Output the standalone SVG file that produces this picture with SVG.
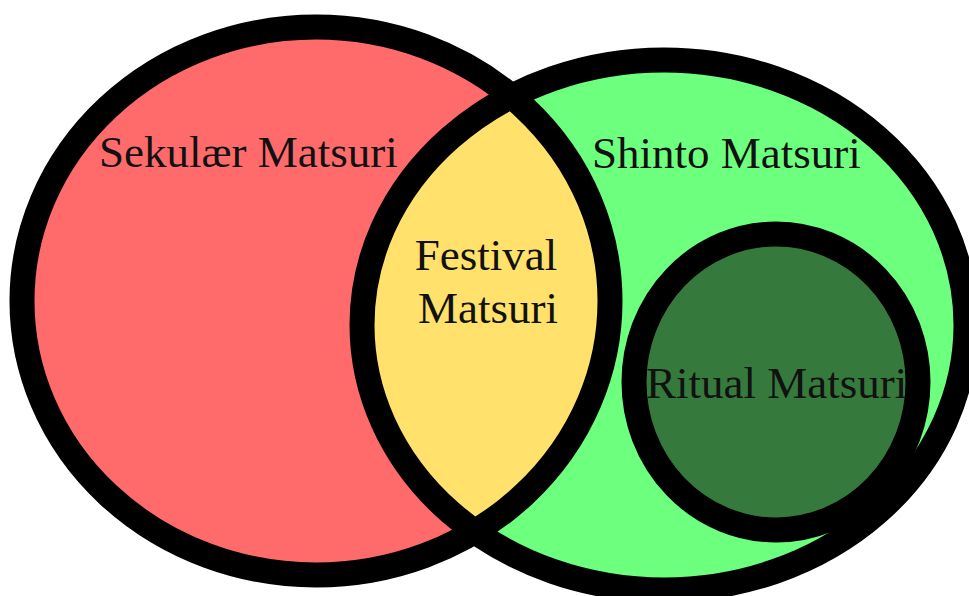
<svg xmlns="http://www.w3.org/2000/svg" width="969" height="596" viewBox="0 0 969 596">
<style>
.o{fill:none;stroke:#000;stroke-width:25}
.t{font-family:"Liberation Serif","Times New Roman",serif;font-size:45px;fill:#111}
</style>
<defs>
<clipPath id="clipL"><ellipse cx="316" cy="301" rx="294" ry="274"/></clipPath>
</defs>
<rect width="969" height="596" fill="#fff"/>
<g id="secular">
<ellipse cx="316" cy="301" rx="294" ry="274" fill="#FF6B6B"/>
</g>
<g id="shinto">
<ellipse cx="664" cy="325" rx="302" ry="265" fill="#6DFF7E"/>
</g>
<g id="festival">
<ellipse cx="664" cy="325" rx="302" ry="265" fill="#FFE16B" clip-path="url(#clipL)"/>
</g>
<g id="outlines">
<ellipse class="o" cx="316" cy="301" rx="294" ry="274"/>
<ellipse class="o" cx="664" cy="325" rx="302" ry="265"/>
</g>
<g id="ritual">
<ellipse cx="776" cy="382" rx="142" ry="148" fill="#357A3C" stroke="#000" stroke-width="25"/>
</g>
<g id="labels">
<text class="t" x="99" y="167">Sekulær Matsuri</text>
<text class="t" x="592" y="168">Shinto Matsuri</text>
<text class="t" x="486" y="270" text-anchor="middle">Festival</text>
<text class="t" x="488" y="323" text-anchor="middle">Matsuri</text>
<text class="t" x="646" y="398">Ritual Matsuri</text>
</g>
</svg>
